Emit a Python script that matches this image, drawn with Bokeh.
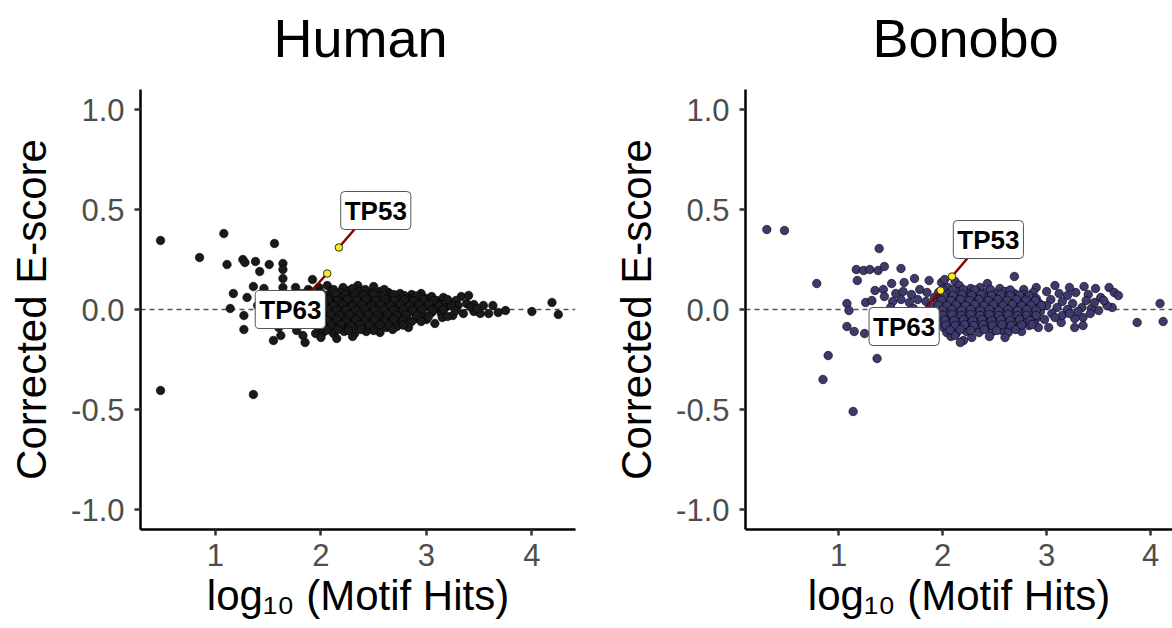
from bokeh.plotting import figure
from bokeh.layouts import row
from bokeh.models import Span, Label, Range1d, Title
from bokeh.embed import file_html
from bokeh.resources import INLINE

# ---------------- data ----------------
panel_titles = ["Human", "Bonobo"]
x_ticks = [1, 2, 3, 4]
y_ticks = [-1.0, -0.5, 0.0, 0.5, 1.0]
y_tick_labels = ["-1.0", "-0.5", "0.0", "0.5", "1.0"]
x_label = "log\u2081\u2080 (Motif Hits)"
y_label = "Corrected E-score"

human_x = [
    0.48, 0.48, 0.85, 1.08, 1.11, 1.26, 1.28, 1.38, 1.51, 1.56, 1.64, 1.64, 1.42, 1.64,
    1.92, 1.36, 1.46, 1.64, 1.76, 1.17, 1.30, 1.14, 1.27, 1.27, 1.36, 1.55, 1.62, 1.85,
    1.83, 1.77, 1.95, 1.57, 1.70, 1.82, 1.88, 1.52, 1.60, 1.72, 1.66, 1.40, 1.48,
    2.06, 2.21, 2.35, 2.50, 1.98,
    1.90, 2.00, 2.10, 2.18, 2.27, 2.37, 2.45, 2.56, 2.64, 2.75, 2.86, 2.95,
    1.93, 2.03, 2.12, 2.20, 2.29, 2.38, 2.47, 2.55, 2.63, 2.72, 2.81, 2.90, 3.00, 3.10, 3.16, 3.33, 3.40,
    1.88, 1.97, 2.07, 2.15, 2.24, 2.33, 2.42, 2.51, 2.60, 2.68, 2.77, 2.86, 2.95, 3.04, 3.13, 3.22, 3.28, 3.45,
    1.92, 2.01, 2.10, 2.19, 2.28, 2.37, 2.46, 2.55, 2.64, 2.73, 2.82, 2.91, 3.00, 3.09, 3.18, 3.30, 3.38, 3.54, 3.63,
    1.96, 2.05, 2.14, 2.23, 2.32, 2.41, 2.50, 2.59, 2.68, 2.77, 2.86, 2.96, 3.05, 3.14, 3.25, 3.35, 3.45, 3.51,
    3.59, 3.68, 3.75, 4.00, 4.19, 4.25,
    1.90, 2.00, 2.09, 2.18, 2.27, 2.36, 2.45, 2.54, 2.63, 2.72, 2.81, 2.90, 3.00, 3.15,
    1.94, 2.04, 2.13, 2.22, 2.31, 2.40, 2.49, 2.58, 2.67, 2.76, 2.86, 3.08,
    1.98, 2.08, 2.17, 2.26, 2.35, 2.44, 2.53, 2.62, 2.72, 2.83,
    2.02, 2.12, 2.22, 2.32, 2.43, 2.56,
    2.00, 2.15, 2.30,
]
human_y = [
    0.345, -0.405, 0.26, 0.38, 0.225, 0.25, 0.235, 0.24, 0.225, 0.33, 0.23, 0.20, 0.19, 0.155,
    0.15, 0.115, 0.105, 0.11, 0.11, 0.08, 0.06, 0.005, -0.03, -0.10, -0.425, -0.155, -0.13, -0.165,
    -0.13, -0.105, -0.12, 0.07, 0.06, 0.08, 0.10, -0.06, -0.09, -0.07, 0.03, 0.02, -0.03,
    0.12, 0.11, 0.12, 0.115, 0.11,
    0.09, 0.085, 0.095, 0.085, 0.095, 0.09, 0.085, 0.09, 0.085, 0.08, 0.075, 0.08,
    0.06, 0.065, 0.055, 0.065, 0.06, 0.065, 0.055, 0.065, 0.06, 0.055, 0.06, 0.05, 0.055, 0.045, 0.06, 0.065, 0.07,
    0.035, 0.03, 0.04, 0.03, 0.04, 0.03, 0.04, 0.03, 0.04, 0.03, 0.035, 0.03, 0.035, 0.03, 0.025, 0.035, 0.045, 0.025,
    0.01, 0.015, 0.005, 0.015, 0.005, 0.015, 0.005, 0.015, 0.005, 0.015, 0.005, 0.01, 0.015, 0.005, 0.01, 0.02, 0.03, 0.02, 0.02,
    -0.015, -0.02, -0.01, -0.02, -0.01, -0.02, -0.01, -0.02, -0.01, -0.02, -0.01, -0.02, -0.015, -0.02, -0.03, -0.02, -0.01, -0.02,
    -0.02, -0.015, -0.005, -0.01, 0.035, -0.025,
    -0.04, -0.045, -0.035, -0.045, -0.035, -0.045, -0.035, -0.045, -0.035, -0.045, -0.04, -0.045, -0.05, -0.04,
    -0.065, -0.07, -0.06, -0.07, -0.06, -0.07, -0.06, -0.07, -0.065, -0.07, -0.06, -0.07,
    -0.09, -0.095, -0.085, -0.095, -0.09, -0.085, -0.095, -0.09, -0.085, -0.09,
    -0.115, -0.12, -0.11, -0.12, -0.11, -0.115,
    -0.14, -0.145, -0.135,
]
# denser centre of the human cloud
human_core_x = [
    2.12, 2.30, 2.42, 2.60,
    1.95, 2.05, 2.14, 2.23, 2.32, 2.41, 2.50, 2.60, 2.69, 2.79, 2.90, 3.05,
    1.98, 2.07, 2.16, 2.25, 2.34, 2.43, 2.52, 2.61, 2.70, 2.79, 2.88, 2.97, 3.07, 3.20,
    1.93, 2.03, 2.12, 2.21, 2.30, 2.39, 2.48, 2.57, 2.66, 2.75, 2.84, 2.93, 3.02, 3.12, 3.24, 3.42,
    1.97, 2.06, 2.15, 2.24, 2.33, 2.42, 2.51, 2.60, 2.69, 2.78, 2.87, 2.96, 3.06, 3.16, 3.28, 3.48,
    2.00, 2.09, 2.18, 2.27, 2.36, 2.45, 2.54, 2.63, 2.72, 2.81, 2.91, 3.02, 3.20,
    1.97, 2.06, 2.15, 2.24, 2.33, 2.42, 2.51, 2.60, 2.69, 2.78, 2.95,
    2.02, 2.10, 2.19, 2.28, 2.37, 2.46, 2.56, 2.65, 2.78,
    2.06, 2.16, 2.26, 2.38, 2.50, 2.68,
]
human_core_y = [
    0.10, 0.105, 0.10, 0.10,
    0.075, 0.07, 0.078, 0.072, 0.078, 0.072, 0.078, 0.072, 0.075, 0.07, 0.068, 0.065,
    0.048, 0.052, 0.045, 0.05, 0.046, 0.052, 0.045, 0.05, 0.046, 0.05, 0.045, 0.05, 0.045, 0.05,
    0.022, 0.025, 0.02, 0.025, 0.02, 0.025, 0.02, 0.025, 0.02, 0.025, 0.02, 0.022, 0.025, 0.02, 0.018, 0.012,
    -0.003, 0.0, -0.005, 0.0, -0.005, 0.0, -0.005, 0.0, -0.005, 0.0, -0.003, 0.0, -0.005, 0.0, -0.005, 0.005,
    -0.028, -0.025, -0.03, -0.025, -0.03, -0.025, -0.03, -0.025, -0.03, -0.028, -0.03, -0.035, -0.035,
    -0.052, -0.055, -0.05, -0.055, -0.05, -0.055, -0.05, -0.055, -0.05, -0.055, -0.06,
    -0.078, -0.08, -0.075, -0.08, -0.075, -0.08, -0.075, -0.08, -0.078,
    -0.103, -0.10, -0.105, -0.10, -0.105, -0.10,
]

bonobo_x = [
    0.31, 0.48, 0.79, 0.90, 0.85, 1.14, 1.37, 1.39, 1.17, 1.24, 1.30, 1.38, 1.44, 1.18,
    1.60, 1.08, 1.10, 1.08, 1.15, 1.25, 1.26, 1.32, 1.35, 1.43, 1.44, 1.51, 1.63, 1.73,
    1.87, 1.99, 2.43, 2.69, 1.55, 1.62, 1.70, 1.78, 1.85, 1.52, 1.60, 1.68, 1.76, 1.84,
    1.92, 1.50, 1.58, 1.72, 1.88, 2.02, 2.12,
    2.90, 3.08, 3.22, 3.36, 3.47, 3.60, 3.65, 3.69, 4.09, 4.12, 3.87, 3.63, 3.58, 3.50,
    3.43, 3.34, 3.35, 3.35, 3.27, 3.14, 3.27, 3.00, 3.12, 3.20, 3.28, 3.40, 3.52, 3.04,
    3.15, 3.25, 3.38, 3.46, 3.55, 3.00, 3.10, 3.20, 3.30, 3.05, 3.15, 3.22, 2.98, 3.08,
    3.02, 3.42,
    2.05, 2.16, 2.27, 2.36, 2.55, 2.78,
    1.96, 2.06, 2.15, 2.24, 2.33, 2.42, 2.51, 2.60, 2.69, 2.78, 2.87,
    1.98, 2.08, 2.17, 2.26, 2.35, 2.44, 2.53, 2.62, 2.71, 2.80, 2.90,
    1.95, 2.03, 2.12, 2.21, 2.30, 2.39, 2.48, 2.57, 2.66, 2.75, 2.84, 2.93,
    1.99, 2.08, 2.17, 2.26, 2.35, 2.44, 2.53, 2.62, 2.71, 2.80, 2.89,
    1.96, 2.04, 2.13, 2.22, 2.31, 2.40, 2.49, 2.58, 2.67, 2.76, 2.85, 2.94,
    2.00, 2.09, 2.18, 2.27, 2.36, 2.45, 2.54, 2.63, 2.72, 2.81, 2.90,
    1.97, 2.06, 2.15, 2.24, 2.33, 2.42, 2.51, 2.60, 2.69, 2.78, 2.88,
    2.01, 2.10, 2.19, 2.28, 2.37, 2.46, 2.55, 2.64, 2.74, 2.83, 2.92,
    2.04, 2.13, 2.23, 2.35, 2.48, 2.57, 2.63, 2.76,
    2.08, 2.12, 2.20, 2.28, 2.45, 2.60, 2.17,
]
bonobo_y = [
    0.40, 0.395, 0.13, -0.23, -0.35, -0.51, -0.245, 0.305, 0.20, 0.195, 0.20, 0.195, 0.215, 0.145,
    0.205, 0.03, -0.005, -0.085, -0.11, -0.12, 0.035, 0.045, 0.095, 0.10, 0.065, 0.13, 0.135, 0.155,
    0.145, 0.135, 0.13, 0.165, 0.08, 0.09, 0.075, 0.10, 0.085, 0.04, 0.05, 0.035, 0.05, 0.04,
    0.06, 0.01, -0.03, 0.005, 0.015, 0.15, 0.14,
    0.11, 0.12, 0.11, 0.115, 0.105, 0.11, 0.085, 0.07, 0.03, -0.06, -0.065, 0.01, 0.02, -0.005,
    0.005, 0.01, -0.04, -0.08, -0.09, -0.065, -0.045, 0.09, 0.08, 0.07, 0.085, 0.075, 0.06, 0.05,
    0.04, 0.03, 0.045, 0.035, 0.045, 0.02, 0.01, 0.0, -0.01, -0.02, -0.03, -0.02, -0.05, -0.04,
    -0.09, -0.02,
    0.11, 0.12, 0.105, 0.11, 0.105, 0.10,
    0.085, 0.08, 0.09, 0.08, 0.09, 0.085, 0.08, 0.09, 0.08, 0.075, 0.085,
    0.055, 0.06, 0.055, 0.065, 0.055, 0.06, 0.055, 0.065, 0.055, 0.06, 0.055,
    0.035, 0.03, 0.04, 0.03, 0.04, 0.03, 0.04, 0.03, 0.04, 0.03, 0.035, 0.03,
    0.01, 0.005, 0.015, 0.005, 0.015, 0.005, 0.015, 0.005, 0.015, 0.005, 0.01,
    -0.015, -0.02, -0.01, -0.02, -0.01, -0.02, -0.01, -0.02, -0.01, -0.02, -0.015, -0.01,
    -0.04, -0.045, -0.035, -0.045, -0.035, -0.045, -0.035, -0.045, -0.04, -0.035, -0.045,
    -0.065, -0.07, -0.06, -0.07, -0.06, -0.07, -0.06, -0.07, -0.065, -0.06, -0.07,
    -0.09, -0.095, -0.085, -0.095, -0.09, -0.085, -0.095, -0.09, -0.085, -0.08, -0.09,
    -0.115, -0.12, -0.11, -0.115, -0.11, -0.105, -0.115, -0.11,
    -0.135, -0.13, -0.155, -0.14, -0.135, -0.14, -0.165,
]
# denser centre of the bonobo cloud
bonobo_core_x = [
    2.00, 2.10, 2.20, 2.31, 2.46, 2.65,
    2.01, 2.10, 2.19, 2.28, 2.37, 2.47, 2.56, 2.65, 2.74, 2.83,
    1.99, 2.08, 2.17, 2.26, 2.35, 2.44, 2.53, 2.62, 2.71, 2.80, 2.89,
    1.96, 2.04, 2.13, 2.22, 2.31, 2.40, 2.49, 2.58, 2.67, 2.76, 2.85, 2.95,
    2.00, 2.09, 2.18, 2.27, 2.36, 2.45, 2.54, 2.63, 2.72, 2.81, 2.90,
    2.00, 2.09, 2.18, 2.27, 2.36, 2.45, 2.54, 2.63, 2.72, 2.81, 2.90,
    2.02, 2.11, 2.20, 2.29, 2.38, 2.47, 2.56, 2.65, 2.74, 2.84,
    2.03, 2.12, 2.21, 2.30, 2.39, 2.48, 2.57, 2.66, 2.76, 2.86,
    2.07, 2.17, 2.27, 2.40, 2.52, 2.70,
]
bonobo_core_y = [
    0.10, 0.098, 0.10, 0.098, 0.10, 0.098,
    0.072, 0.07, 0.075, 0.07, 0.075, 0.07, 0.075, 0.07, 0.072, 0.07,
    0.047, 0.045, 0.05, 0.045, 0.05, 0.045, 0.05, 0.045, 0.05, 0.047, 0.045,
    0.022, 0.02, 0.025, 0.02, 0.025, 0.02, 0.025, 0.02, 0.025, 0.02, 0.022, 0.02,
    -0.003, 0.0, -0.005, 0.0, -0.005, 0.0, -0.005, 0.0, -0.005, 0.0, -0.003,
    -0.028, -0.025, -0.03, -0.025, -0.03, -0.025, -0.03, -0.025, -0.03, -0.028, -0.03,
    -0.052, -0.055, -0.05, -0.055, -0.05, -0.055, -0.05, -0.055, -0.05, -0.055,
    -0.078, -0.08, -0.075, -0.08, -0.075, -0.08, -0.075, -0.08, -0.078, -0.075,
    -0.103, -0.10, -0.105, -0.10, -0.105, -0.10,
]

gene_names = ["TP53", "TP63"]
human_gene_x = [2.17, 2.06]
human_gene_y = [0.31, 0.18]
bonobo_gene_x = [2.09, 1.98]
bonobo_gene_y = [0.165, 0.095]

# ---------------- layout / styling (not data) ----------------
FONT = "Liberation Sans"
panels = [
    dict(title=panel_titles[0], x=human_x + human_core_x, y=human_y + human_core_y,
         gx=human_gene_x, gy=human_gene_y,
         fill="#1a1a1a", width=605, xr=(0.29, 4.413), border_right=30, title_offset=133,
         lab_pos=[(2.52, 0.495), (1.71, 0.0)], seg_end=[(2.35, 0.42), (1.87, 0.07)]),
    dict(title=panel_titles[1], x=bonobo_x + bonobo_core_x, y=bonobo_y + bonobo_core_y,
         gx=bonobo_gene_x, gy=bonobo_gene_y,
         fill="#3f3a6e", width=567, xr=(0.105, 4.21), border_right=0, title_offset=127,
         lab_pos=[(2.44, 0.35), (1.63, -0.085)], seg_end=[(2.27, 0.275), (1.80, -0.015)]),
]

figs = []
for cfg in panels:
    p = figure(width=cfg["width"], height=628, output_backend="svg", toolbar_location=None,
               x_range=Range1d(*cfg["xr"]), y_range=Range1d(-1.1, 1.1),
               min_border_left=140, min_border_right=cfg["border_right"],
               min_border_top=89, min_border_bottom=99, title=None)
    # spacer between plot frame and panel title
    p.add_layout(Title(text=" ", text_font=FONT, text_font_size="14px", standoff=0), "above")
    p.add_layout(Title(text=cfg["title"], align="left", offset=cfg["title_offset"],
                       text_font=FONT, text_font_size="54px", text_font_style="normal",
                       text_color="black", standoff=8), "above")
    p.outline_line_color = None
    p.grid.visible = False
    p.background_fill_color = "white"
    p.border_fill_color = "white"

    for ax in (p.xaxis[0], p.yaxis[0]):
        ax.axis_line_width = 2.5
        ax.axis_line_color = "black"
        ax.major_tick_line_width = 2.5
        ax.major_tick_line_color = "#333333"
        ax.major_tick_out = 6
        ax.major_tick_in = 0
        ax.minor_tick_line_color = None
        ax.major_label_text_font = FONT
        ax.major_label_text_font_size = "31px"
        ax.major_label_text_color = "#4d4d4d"
        ax.axis_label_text_font = FONT
        ax.axis_label_text_font_size = "42px"
        ax.axis_label_text_font_style = "normal"
        ax.axis_label_text_color = "black"
    p.xaxis.ticker = x_ticks
    p.yaxis.ticker = y_ticks
    p.yaxis.major_label_overrides = {t: s for t, s in zip(y_ticks, y_tick_labels)}
    p.xaxis.major_label_standoff = 8
    p.yaxis.major_label_standoff = 10
    p.xaxis.axis_label_standoff = 3
    p.yaxis.axis_label_standoff = 13
    p.xaxis.axis_label = x_label
    p.yaxis.axis_label = y_label

    zero = Span(location=0, dimension="width", line_color="#555555", line_width=1.5,
                line_dash="5 4", level="underlay")
    p.add_layout(zero)

    p.scatter(cfg["x"], cfg["y"], size=8.5, fill_color=cfg["fill"], line_color="black",
              line_width=0.6)

    # connector segments
    p.segment(x0=cfg["gx"], y0=cfg["gy"],
              x1=[e[0] for e in cfg["seg_end"]], y1=[e[1] for e in cfg["seg_end"]],
              line_color="#8b0000", line_width=2.5)
    p.scatter(cfg["gx"], cfg["gy"], size=7.5, fill_color="#ffe91f", line_color="black",
              line_width=0.8)

    for name, (lx, ly) in zip(gene_names, cfg["lab_pos"]):
        p.add_layout(Label(x=lx, y=ly, text=name, text_align="center", text_baseline="middle",
                           text_font=FONT, text_font_size="26px", text_font_style="bold",
                           text_color="black", background_fill_color="white",
                           border_line_color="#555555", border_line_width=1,
                           padding=4, border_radius=4))
    figs.append(p)

layout = row(*figs)
open("out.html", "w").write(file_html(layout, INLINE))
